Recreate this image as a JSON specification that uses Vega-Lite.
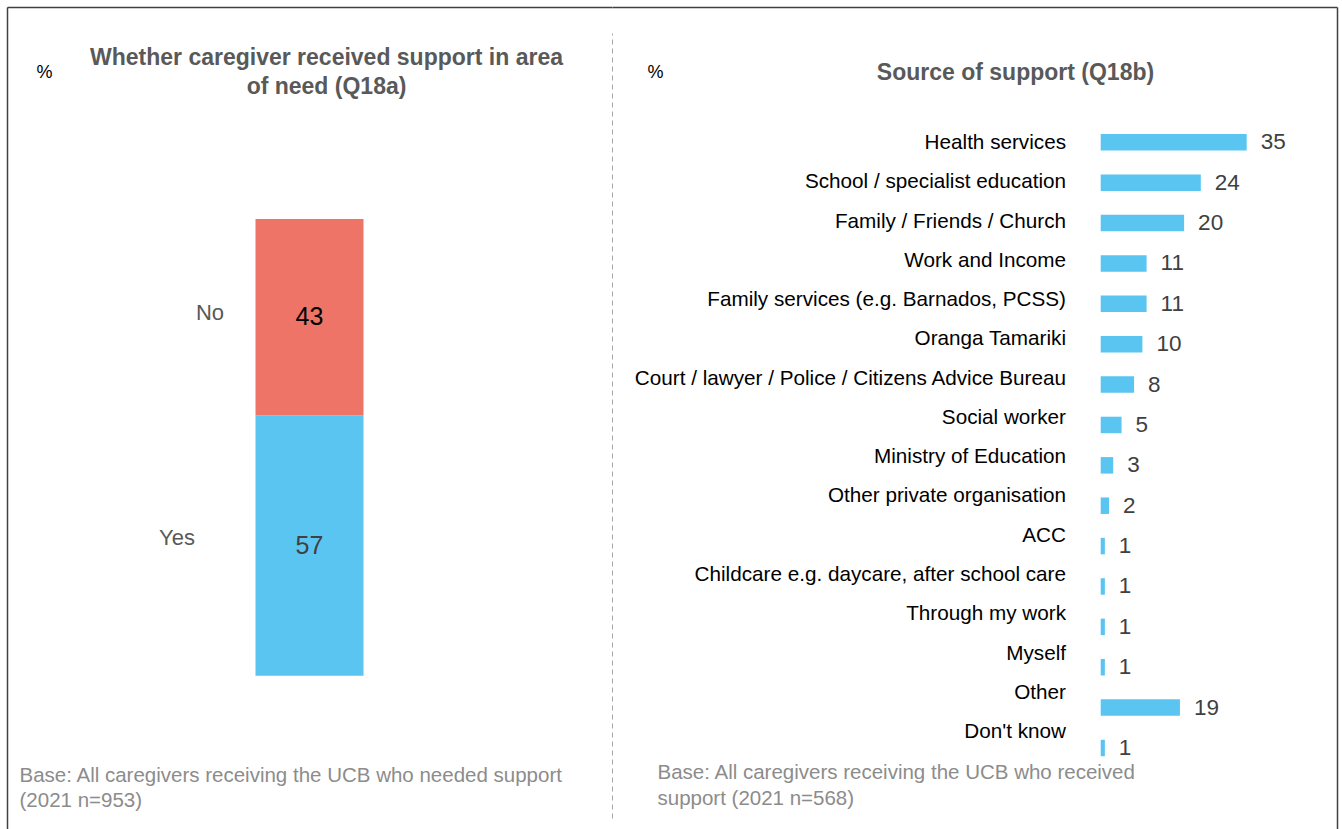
{
  "$schema": "https://vega.github.io/schema/vega-lite/v6.json",
  "padding": {"left": 7, "top": 7, "right": 5, "bottom": 0},
  "background": "white",
  "spacing": 0,
  "config": {
    "view": {"stroke": null},
    "font": "Liberation Sans",
    "axis": {"grid": false, "ticks": false, "labels": false, "titleFont": "Liberation Sans"}
  },
  "hconcat": [
    {
      "width": 605,
      "height": 822,
      "data": {"values": [
        {"q": "Q18a", "answer": "Yes", "value": 57},
        {"q": "Q18a", "answer": "No", "value": 43}
      ]},
      "transform": [
        {"stack": "value", "groupby": ["q"], "sort": [{"field": "answer", "order": "descending"}], "as": ["v0", "v1"]}
      ],
      "layer": [
        {
          "mark": {"type": "bar", "width": 108},
          "encoding": {
            "x": {"field": "q", "type": "nominal", "scale": {"type": "band"},
              "axis": {"orient": "top", "domain": true, "domainColor": "#404040", "domainWidth": 1.5,
                "title": ["Whether caregiver received support in area", "of need (Q18a)"],
                "titleX": 319, "titleY": 50, "titleAlign": "center", "titleBaseline": "middle",
                "titleFontSize": 23, "titleFontWeight": "bold", "titleColor": "#595959", "titleLineHeight": 29}},
            "y": {"field": "v0", "type": "quantitative", "scale": {"domain": [-33.57, 146.42], "nice": false, "zero": false},
              "axis": {"orient": "left", "domain": true, "domainColor": "#404040", "domainWidth": 1.5,
                "title": "%", "titleAngle": 0, "titleX": 37, "titleY": 65, "titleAlign": "center", "titleBaseline": "middle",
                "titleFontSize": 18, "titleFontWeight": "normal", "titleColor": "#000000"}},
            "y2": {"field": "v1"},
            "color": {"field": "answer", "type": "nominal", "scale": {"domain": ["Yes", "No"], "range": ["#5BC5F2", "#ED7467"]}, "legend": null}
          }
        },
        {
          "transform": [
            {"fold": ["v0", "v1"], "as": ["edge", "pos"]},
            {"aggregate": [{"op": "mean", "field": "pos", "as": "mid"}], "groupby": ["q", "answer", "value"]}
          ],
          "mark": {"type": "text", "fontSize": 25, "baseline": "middle", "align": "center"},
          "encoding": {
            "x": {"field": "q", "type": "nominal",
              "axis": {"orient": "bottom", "domain": false,
                "title": ["Base: All caregivers receiving the UCB who needed support", "(2021 n=953)"],
                "titleX": 12, "titleY": -54, "titleAlign": "left", "titleBaseline": "middle",
                "titleFontSize": 20.5, "titleFontWeight": "normal", "titleColor": "#8C8C8C", "titleLineHeight": 25}},
            "y": {"field": "mid", "type": "quantitative", "scale": {"domain": [-33.57, 146.42], "nice": false, "zero": false}, "axis": null},
            "text": {"field": "value", "type": "quantitative"},
            "color": {"condition": {"test": "datum.answer === 'No'", "value": "#000000"}, "value": "#404040"}
          }
        },
        {
          "transform": [
            {"fold": ["v0", "v1"], "as": ["edge", "pos"]},
            {"aggregate": [{"op": "mean", "field": "pos", "as": "mid"}], "groupby": ["q", "answer"]},
            {"filter": "datum.answer === 'No'"}
          ],
          "mark": {"type": "text", "fontSize": 22, "baseline": "middle", "align": "right", "dx": -85.5, "dy": -4, "color": "#595959"},
          "encoding": {
            "x": {"field": "q", "type": "nominal", "axis": null},
            "y": {"field": "mid", "type": "quantitative", "scale": {"domain": [-33.57, 146.42], "nice": false, "zero": false}, "axis": null},
            "text": {"field": "answer", "type": "nominal"}
          }
        },
        {
          "transform": [
            {"fold": ["v0", "v1"], "as": ["edge", "pos"]},
            {"aggregate": [{"op": "mean", "field": "pos", "as": "mid"}], "groupby": ["q", "answer"]},
            {"filter": "datum.answer === 'Yes'"}
          ],
          "mark": {"type": "text", "fontSize": 22, "baseline": "middle", "align": "right", "dx": -114.5, "dy": -7.5, "color": "#595959"},
          "encoding": {
            "x": {"field": "q", "type": "nominal", "axis": null},
            "y": {"field": "mid", "type": "quantitative", "scale": {"domain": [-33.57, 146.42], "nice": false, "zero": false}, "axis": null},
            "text": {"field": "answer", "type": "nominal"}
          }
        },
        {
          "mark": {"type": "point", "opacity": 0},
          "encoding": {
            "x": {"field": "q", "type": "nominal", "axis": null},
            "y": {"field": "value", "type": "quantitative", "scale": {"domain": [0, 100], "range": [811, 26]},
              "axis": {"orient": "right", "domain": true, "domainColor": "#A6A6A6", "domainWidth": 1, "domainDash": [5, 4], "title": null}}
          }
        }
      ],
      "resolve": {"scale": {"y": "independent"}, "axis": {"x": "independent", "y": "independent"}}
    },
    {
      "width": 725,
      "height": 822,
      "data": {"values": [
        {"source": "Health services", "value": 35},
        {"source": "School / specialist education", "value": 24},
        {"source": "Family / Friends / Church", "value": 20},
        {"source": "Work and Income", "value": 11},
        {"source": "Family services (e.g. Barnados, PCSS)", "value": 11},
        {"source": "Oranga Tamariki", "value": 10},
        {"source": "Court / lawyer / Police / Citizens Advice Bureau", "value": 8},
        {"source": "Social worker", "value": 5},
        {"source": "Ministry of Education", "value": 3},
        {"source": "Other private organisation", "value": 2},
        {"source": "ACC", "value": 1},
        {"source": "Childcare e.g. daycare, after school care", "value": 1},
        {"source": "Through my work", "value": 1},
        {"source": "Myself", "value": 1},
        {"source": "Other", "value": 19},
        {"source": "Don't know", "value": 1}
      ]},
      "layer": [
        {
          "mark": {"type": "bar", "color": "#5BC5F2"},
          "encoding": {
            "y": {"field": "source", "type": "nominal", "sort": null,
              "scale": {"type": "band", "paddingInner": 0.5914, "paddingOuter": 0.5, "range": [106.86, 769.44], "round": false},
              "axis": null},
            "x": {"field": "value", "type": "quantitative", "scale": {"domain": [-117.16, 56.65], "nice": false, "zero": false},
              "axis": {"orient": "top", "domain": true, "domainColor": "#404040", "domainWidth": 1.5,
                "title": "Source of support (Q18b)", "titleX": 403, "titleY": 65, "titleAlign": "center", "titleBaseline": "middle",
                "titleFontSize": 23, "titleFontWeight": "bold", "titleColor": "#595959"}}
          }
        },
        {
          "mark": {"type": "text", "align": "left", "dx": 14, "baseline": "middle", "fontSize": 22.5, "color": "#404040"},
          "encoding": {
            "y": {"field": "source", "type": "nominal", "sort": null,
              "scale": {"type": "band", "paddingInner": 0.5914, "paddingOuter": 0.5, "range": [106.86, 769.44], "round": false},
              "axis": {"orient": "left", "domain": false, "title": "%", "titleAngle": 0, "titleX": 43, "titleY": 65,
                "titleAlign": "center", "titleBaseline": "middle", "titleFontSize": 18, "titleFontWeight": "normal", "titleColor": "#000000"}},
            "x": {"field": "value", "type": "quantitative", "scale": {"domain": [-117.16, 56.65], "nice": false, "zero": false},
              "axis": {"orient": "bottom", "domain": false,
                "title": ["Base: All caregivers receiving the UCB who received", "support (2021 n=568)"],
                "titleX": 45, "titleY": -57, "titleAlign": "left", "titleBaseline": "middle",
                "titleFontSize": 20.5, "titleFontWeight": "normal", "titleColor": "#8C8C8C", "titleLineHeight": 26}},
            "text": {"field": "value", "type": "quantitative"}
          }
        },
        {
          "mark": {"type": "text", "align": "right", "dx": -34.7, "baseline": "middle", "fontSize": 20.7, "color": "#000000"},
          "encoding": {
            "y": {"field": "source", "type": "nominal", "sort": null,
              "scale": {"type": "point", "padding": 0.5, "range": [116.5, 744.7], "round": false}, "axis": null},
            "x": {"datum": 0, "type": "quantitative", "scale": {"domain": [-117.16, 56.65], "nice": false, "zero": false}, "axis": null},
            "text": {"field": "source", "type": "nominal"}
          }
        },
        {
          "mark": {"type": "point", "opacity": 0},
          "encoding": {
            "x": {"field": "value", "type": "quantitative", "scale": {"domain": [-117.16, 56.65], "nice": false, "zero": false}, "axis": null},
            "y": {"field": "value", "type": "quantitative", "scale": {"domain": [0, 100]},
              "axis": {"orient": "right", "domain": true, "domainColor": "#404040", "domainWidth": 1.5, "title": null}}
          }
        }
      ],
      "resolve": {"scale": {"y": "independent"}, "axis": {"x": "independent", "y": "independent"}}
    }
  ]
}
